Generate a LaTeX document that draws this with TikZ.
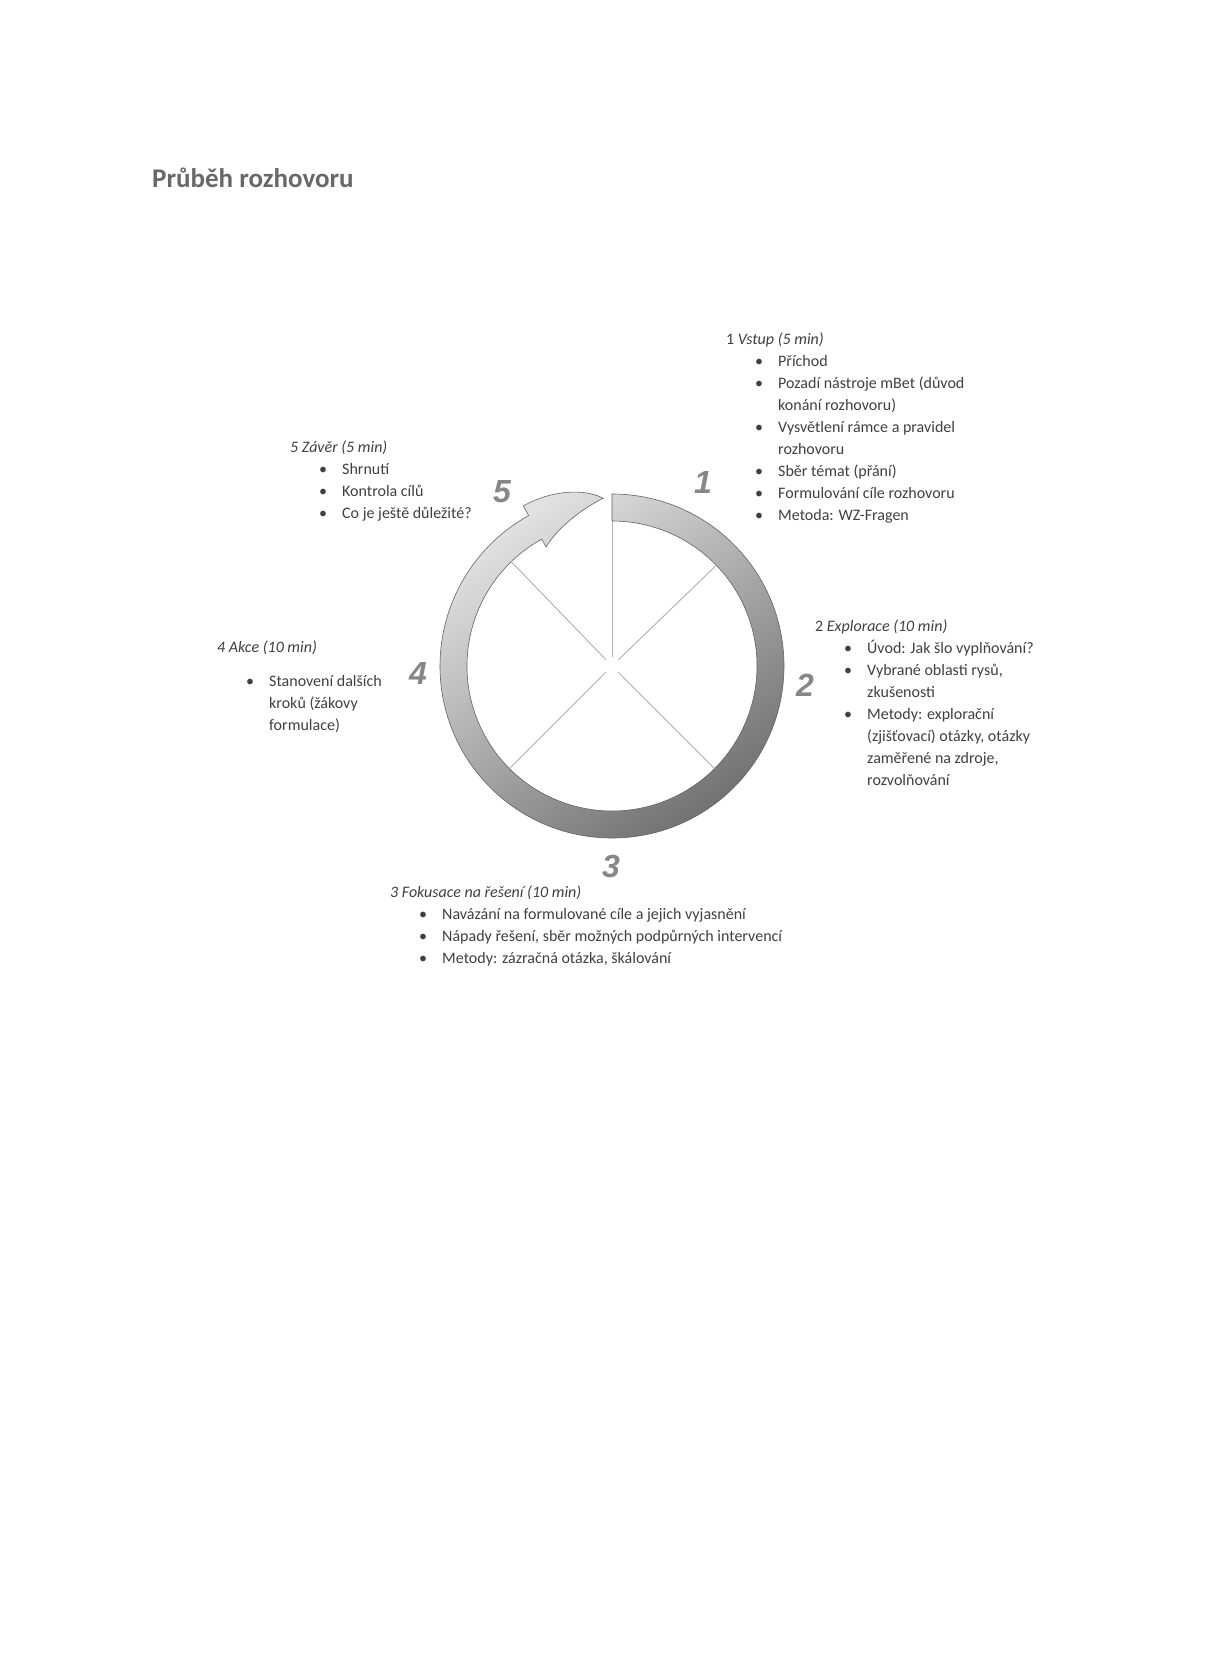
\documentclass[tikz,border=0pt]{standalone}
\usepackage{fontspec}
\setmainfont{Carlito}
\newfontfamily\numfont{Liberation Sans}
\definecolor{txt}{HTML}{404040}
\definecolor{titlegray}{HTML}{686868}
\definecolor{numgray}{HTML}{878787}
\definecolor{ringlight}{HTML}{E2E2E2}
\definecolor{ringdark}{HTML}{727272}
\definecolor{ringline}{HTML}{646464}
\newcommand\blt{\hspace*{29pt}\makebox[23pt][l]{\textbullet}}
\newcommand\cnt{\hspace*{52pt}}
\begin{document}
\begin{tikzpicture}[x=1pt,y=1pt,
  block/.style={anchor=north west, inner sep=0pt, align=left, text=txt,
    font=\fontsize{16}{22}\selectfont},
  numlabel/.style={font=\numfont\bfseries\itshape\fontsize{32}{32}\selectfont,
    text=numgray, inner sep=0pt},
  spoke/.style={draw=gray!62, line width=0.9pt},
  ringstyle/.style={draw=ringline, line width=0.6pt, shading=axis,
    top color=ringlight, bottom color=ringdark, shading angle=35}]
\useasboundingbox (0,0) rectangle (1210,-1663);
\fill[white] (0,0) rectangle (1210,-1663);

% title
\node[anchor=base west, inner sep=0pt, text=titlegray,
  font=\bfseries\fontsize{27}{27}\selectfont] (title) at (152,-187) {Průběh rozhovoru};

% ring
\coordinate (c) at (612,-666);
\begin{scope}[shift={(c)}]
  \path[ringstyle]
    (90:172) arc[start angle=90, end angle=-241, radius=172]
    -- (119:183)
    .. controls (109:186) and (99:180) .. (93:168)
    .. controls (101:160) and (112:148) .. (119:136)
    -- (119:145)
    arc[start angle=-241, end angle=90, radius=145] -- cycle;
  \draw[spoke] (90:9) -- (90:145);
  \draw[spoke] (44:9) -- (44:145);
  \draw[spoke] (-45:9) -- (-45:145);
  \draw[spoke] (-135:9) -- (-135:145);
  \draw[spoke] (134:9) -- (134:145);
\end{scope}

% numbers
\node[numlabel] (n1) at (703,-482) {1};
\node[numlabel] (n2) at (805,-685) {2};
\node[numlabel] (n3) at (611,-866) {3};
\node[numlabel] (n4) at (418,-673) {4};
\node[numlabel] (n5) at (502,-492) {5};

% text blocks
\node[block] (b1) at (726,-333) {1 \textit{Vstup (5 min)}\\
\blt Příchod\\
\blt Pozadí nástroje mBet (důvod\\
\cnt konání rozhovoru)\\
\blt Vysvětlení rámce a pravidel\\
\cnt rozhovoru\\
\blt Sběr témat (přání)\\
\blt Formulování cíle rozhovoru\\
\blt Metoda: WZ-Fragen};

\node[block] (b2) at (815,-620) {2 \textit{Explorace (10 min)}\\
\blt Úvod: Jak šlo vyplňování?\\
\blt Vybrané oblasti rysů,\\
\cnt zkušenosti\\
\blt Metody: explorační\\
\cnt (zjišťovací) otázky, otázky\\
\cnt zaměřené na zdroje,\\
\cnt rozvolňování};

\node[block] (b3) at (390,-886) {\textit{3 Fokusace na řešení (10 min)}\\
\blt Navázání na formulované cíle a jejich vyjasnění\\
\blt Nápady řešení, sběr možných podpůrných intervencí\\
\blt Metody: zázračná otázka, škálování};

\node[block] (b4) at (217,-641) {\textit{4 Akce (10 min)}\\[12pt]
\blt Stanovení dalších\\
\cnt kroků (žákovy\\
\cnt formulace)};

\node[block] (b5) at (290,-441) {\textit{5 Závěr (5 min)}\\
\blt Shrnutí\\
\blt Kontrola cílů\\
\blt Co je ještě důležité?};
\end{tikzpicture}
\end{document}
